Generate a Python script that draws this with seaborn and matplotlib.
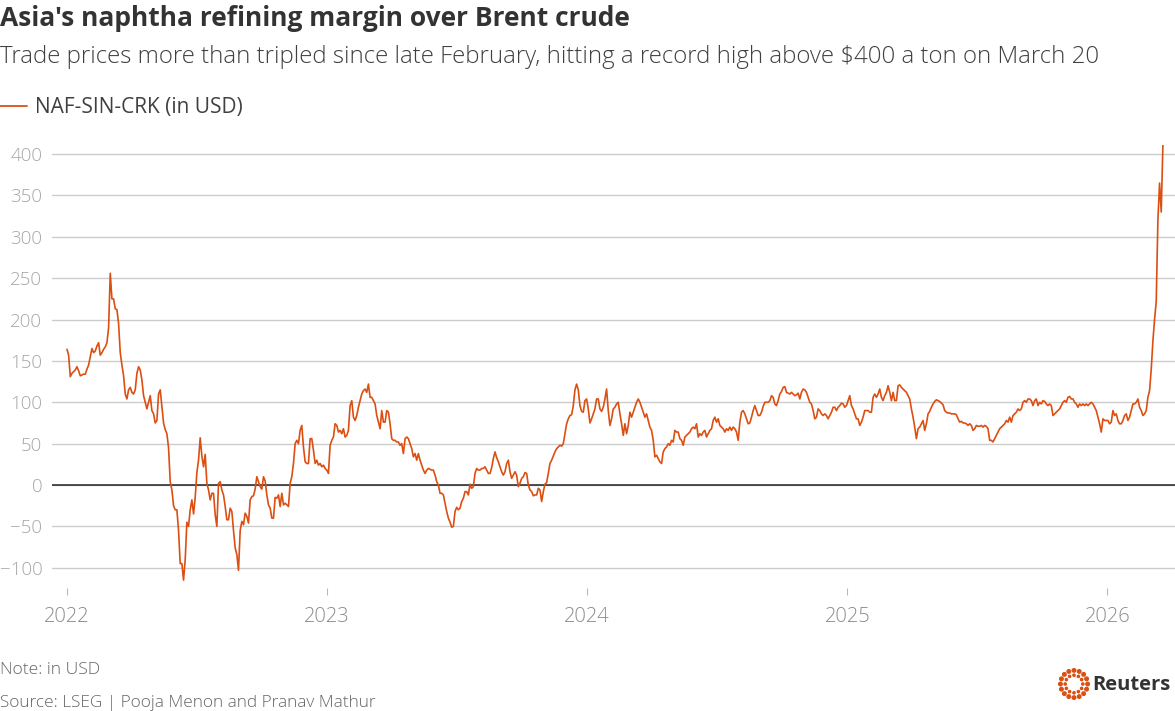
import numpy as np
import pandas as pd
import seaborn as sns
import matplotlib.pyplot as plt
from matplotlib.patches import Circle

# daily-ish readings of NAF-SIN-CRK, Jan 2022 -> 20 Mar 2026
vals_2022a = [164, 157, 131, 135, 137, 139, 143, 138, 132, 133, 134, 134, 140, 145, 155, 165,
              160, 162, 168, 172, 157, 160, 164, 167, 172, 190, 256, 225, 225, 213, 212, 195,
              160, 145, 132, 110, 104, 115, 118, 112, 110, 115, 135, 143, 139, 127, 108, 100,
              92, 100, 108, 90, 86, 75, 78, 110, 115, 95, 75, 67, 62, 45, 4, -6,
              -25, -30, -30, -55, -95, -95, -115, -90, -45, -50, -30, -18, -35, -15, 15, 30,
              57, 35, 22, 37, 2, -6, -18, -10, -10, -36, -50, 2, 4, -6, -12, -26,
              -42, -42, -28, -32, -55, -76, -84, -103]
vals_2022b = [-55, -44, -48, -34, -38, -46, -18, -14, -13, -5, 10, 4, -2, -5, 10, 5,
              -12, -24, -28, -40, -40, -15, -16, -12, -26, -10, -24, -22, -24, -26, 2, 10,
              26, 50, 54, 50, 66, 72, 46, 28, 26, 26, 56, 56, 42, 26, 30, 24,
              26, 22, 24, 20, 18, 14, 48, 54, 58, 74, 72, 64, 66, 62, 68, 58,
              60, 66, 96, 102, 82, 78, 84, 94, 102, 110, 114, 116, 112, 122, 106, 106,
              102, 98, 84, 76, 68, 90, 76, 76, 90, 88, 74, 56, 54, 54, 52, 52,
              48, 50, 38, 56, 58, 56, 50, 44, 34, 38, 30, 38, 30, 24, 18, 14,
              18, 20]
vals_2023 = [19, 18, 18, 12, 4, 0, -10, -10, -12, -22, -32, -40, -45, -51, -50, -32,
             -27, -30, -28, -20, -16, -8, -8, -12, 1, -4, -2, 14, 20, 18, 18, 20,
             20, 22, 18, 14, 14, 21, 32, 40, 33, 28, 22, 16, 12, 16, 26, 30,
             16, 8, 12, 16, 12, -2, 2, 8, 10, 15, 14, 0, -6, -8, -13, -12,
             -12, -4, -6, -20, -8, 1, 3, 14, 26, 30, 35, 40, 44, 46, 48, 47,
             50, 62, 74, 80, 84, 85, 96, 115, 122, 115, 96, 89, 88, 102, 104, 92,
             75, 80, 86, 92, 104, 104, 92, 89, 94, 104, 116, 90, 72, 80, 92, 94,
             98, 100]
vals_2024 = [86, 74, 60, 74, 62, 72, 88, 82, 88, 94, 100, 104, 100, 94, 88, 82,
             86, 78, 70, 66, 54, 34, 36, 32, 28, 26, 40, 44, 46, 50, 48, 54,
             52, 66, 64, 64, 56, 54, 48, 58, 60, 62, 64, 68, 70, 68, 74, 58,
             62, 60, 64, 66, 58, 62, 66, 68, 78, 82, 76, 80, 72, 70, 68, 64,
             68, 66, 70, 66, 70, 68, 64, 54, 76, 88, 90, 86, 80, 74, 75, 82,
             90, 96, 90, 84, 84, 88, 95, 100, 100, 100, 102, 108, 106, 98, 96, 102,
             110, 113, 118, 119, 112, 111, 110, 112, 110, 108, 109, 111, 104, 112, 116, 115,
             112, 106]
vals_2025 = [100, 98, 90, 80, 82, 92, 90, 86, 84, 86, 84, 80, 84, 88, 94, 94,
             90, 94, 96, 99, 98, 94, 96, 102, 108, 96, 92, 86, 80, 80, 72, 76,
             82, 90, 90, 90, 88, 88, 106, 110, 106, 110, 116, 106, 102, 108, 112, 120,
             112, 102, 112, 102, 102, 120, 121, 118, 116, 114, 112, 108, 104, 92, 82, 70,
             56, 68, 70, 74, 78, 66, 74, 86, 89, 94, 98, 101, 103, 102, 101, 99,
             97, 90, 88, 87, 87, 86, 86, 86, 85, 80, 76, 77, 75, 75, 74, 72,
             74, 72, 66, 68, 72, 71, 71, 72, 70, 72, 71, 68, 54, 54, 52, 56,
             60, 64]
vals_2026 = [68, 70, 72, 74, 78, 76, 82, 76, 84, 86, 88, 92, 90, 92, 100, 102,
             100, 104, 104, 102, 96, 102, 104, 96, 100, 98, 102, 101, 98, 96, 98, 96,
             84, 86, 88, 90, 92, 96, 100, 102, 100, 106, 107, 104, 104, 100, 98, 94,
             98, 96, 98, 96, 98, 96, 98, 100, 98, 94, 90, 82, 74, 64, 80, 78,
             78, 78, 74, 76, 90, 84, 86, 78, 74, 74, 78, 84, 86, 78, 82, 90,
             98, 98, 100, 104, 94, 90, 84, 86, 90, 106, 114, 140, 174, 200, 222, 320,
             365, 330, 411]

values = vals_2022a + vals_2022b + vals_2023 + vals_2024 + vals_2025 + vals_2026
dates = pd.date_range("2022-01-01", "2026-03-20", periods=len(values))
df = pd.DataFrame({"date": dates, "NAF-SIN-CRK (in USD)": values})

y_ticks = [-100, -50, 0, 50, 100, 150, 200, 250, 300, 350, 400]
x_years = [2022, 2023, 2024, 2025, 2026]

orange = "#dc4f12"
txt = "#404040"
grey = "#a6a6a6"

sns.set_theme(style="white")
plt.rcParams["font.family"] = ["Open Sans", "DejaVu Sans"]

fig = plt.figure(figsize=(11.75, 7.11), dpi=100)
ax = fig.add_axes([52 / 1175, 1 - 588 / 711, (1175 - 52) / 1175, (588 - 145) / 711])

sns.lineplot(data=df, x="date", y="NAF-SIN-CRK (in USD)", ax=ax, color=orange,
             linewidth=1.2, label="NAF-SIN-CRK (in USD)", zorder=3)

ax.set_ylim(-124.5, 411)
ax.set_xlim(pd.Timestamp("2021-12-11"), pd.Timestamp("2026-04-06"))
ax.set_yticks(y_ticks)
ax.set_yticklabels([f"{t}".replace("-", "\u2212") for t in y_ticks])
ax.set_xticks([pd.Timestamp(f"{y}-01-01") for y in x_years])
ax.set_xticklabels([str(y) for y in x_years])
ax.set_xlabel("")
ax.set_ylabel("")
for s in ax.spines.values():
    s.set_visible(False)
ax.grid(axis="y", color="#cccccc", linewidth=1)
ax.axhline(0, color="#222222", linewidth=1.1, zorder=2)
ax.tick_params(axis="y", length=0, pad=7, labelsize=13.5, labelcolor=grey)
ax.tick_params(axis="x", length=5, width=0.8, color="#bbbbbb", direction="out",
               pad=9, labelsize=14.5, labelcolor="#8c8c8c", bottom=True)
for lab in ax.get_xticklabels() + ax.get_yticklabels():
    lab.set_fontweight("light")

leg = ax.legend(loc="upper left", bbox_to_anchor=(0.0, 1 - 97 / 711), bbox_transform=fig.transFigure,
                frameon=False, handlelength=1.3, handletextpad=0.4, borderaxespad=0, borderpad=0,
                fontsize=15, labelcolor=txt)
for l in leg.get_lines():
    l.set_linewidth(1.3)

fig.text(0.0, 1 - 18 / 711, "Asia's naphtha refining margin over Brent crude", fontsize=19,
         fontweight="bold", color="#333333", va="center", ha="left")
fig.text(0.0, 1 - 57 / 711, "Trade prices more than tripled since late February, hitting a record "
         "high above $400 a ton on March 20", fontsize=17.3, color=txt, va="center", ha="left",
         fontweight="light")
fig.text(0.0, 1 - 670 / 711, "Note: in USD", fontsize=12.6, color="#666666", va="center",
         fontweight="light")
fig.text(0.0, 1 - 703 / 711, "Source: LSEG | Pooja Menon and Pranav Mathur", fontsize=12.4,
         color="#666666", va="center", fontweight="light")

# Reuters logo
lax = fig.add_axes([1058 / 1175, 1 - 700 / 711, 32 / 1175, 32 / 711])
lax.set_xlim(-1, 1)
lax.set_ylim(-1, 1)
lax.set_aspect("equal")
lax.axis("off")
for r, n, s in [(0.85, 16, 0.11), (0.55, 12, 0.07)]:
    for k in range(n):
        a = 2 * np.pi * k / n
        lax.add_patch(Circle((r * np.cos(a), r * np.sin(a)), s, color=orange))
fig.text(1092 / 1175, 1 - 685 / 711, "Reuters", fontsize=14.5, fontweight="bold", color="#333333",
         va="center", ha="left")

fig.savefig("out.png", dpi=100)
